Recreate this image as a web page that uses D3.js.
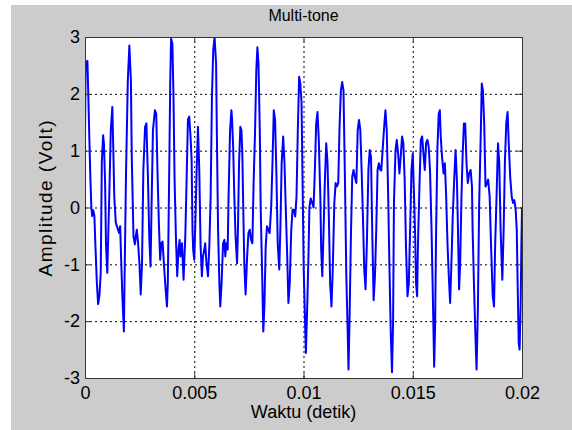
<!DOCTYPE html>
<html><head><meta charset="utf-8">
<script src="https://cdn.jsdelivr.net/npm/d3@7"></script>
<style>
html,body{margin:0;padding:0;background:#fff;}
svg{display:block;}
text{font-family:"Liberation Sans",Arial,Helvetica,sans-serif;fill:#000;}
</style></head><body>
<svg id="chart" width="572" height="430"></svg>
<script>
const titleText = "Multi-tone";
const xLabel = "Waktu (detik)";
const yLabel = "Amplitude (Volt)";
const xTicks = [0, 0.005, 0.01, 0.015, 0.02];
const xTickLabels = ["0", "0.005", "0.01", "0.015", "0.02"];
const yTicks = [-3, -2, -1, 0, 1, 2, 3];
const yTickLabels = ["-3", "-2", "-1", "0", "1", "2", "3"];

// time in milliseconds
const timeMs = [
0.00,0.03,0.11,0.15,0.20,0.24,0.29,0.33,0.38,0.43,0.47,0.54,0.60,0.66,0.72,0.77,0.83,0.87,0.92,0.96,
1.02,1.07,1.11,1.18,1.25,1.30,1.34,1.41,1.48,1.56,1.61,1.65,1.71,1.78,1.82,1.88,1.96,2.03,2.10,2.14,
2.22,2.28,2.37,2.43,2.49,2.55,2.61,2.67,2.75,2.81,2.88,2.94,3.00,3.04,3.11,3.20,3.26,3.32,3.38,
3.44,3.49,3.55,3.61,3.67,3.75,3.79,3.85,3.90,3.94,4.00,4.05,4.10,4.16,4.22,4.28,4.33,4.37,4.44,4.51,
4.59,4.65,4.71,4.77,4.83,4.88,4.92,4.95,5.00,5.05,5.11,5.17,5.23,5.29,5.35,5.40,5.46,5.50,5.56,5.63,
5.69,5.75,5.81,5.87,5.93,6.00,6.04,6.09,6.15,6.19,6.25,6.32,6.38,6.42,6.47,6.53,6.57,6.64,6.70,
6.73,6.78,6.83,6.89,6.96,7.00,7.05,7.11,7.16,7.20,7.25,7.29,7.35,7.42,7.48,7.54,7.60,7.66,7.72,7.78,
7.84,7.89,7.94,8.00,8.04,8.11,8.16,8.21,8.27,8.33,8.39,8.45,8.52,8.58,8.64,8.70,8.76,8.82,8.89,8.94,
9.00,9.07,9.13,9.19,9.25,9.31,9.37,9.44,9.50,9.56,9.62,9.68,9.74,9.80,9.85,9.91,9.95,10.01,10.08,10.11,
10.18,10.23,10.27,10.33,10.40,10.46,10.52,10.58,10.64,10.70,10.77,10.81,10.86,10.92,10.98,11.04,11.10,11.16,11.22,11.28,
11.34,11.41,11.47,11.53,11.59,11.65,11.71,11.77,11.83,11.89,11.96,12.02,12.06,12.11,12.17,12.23,12.29,12.35,12.42,12.48,
12.54,12.60,12.66,12.72,12.78,12.84,12.90,12.97,13.03,13.09,13.15,13.21,13.27,13.33,13.39,13.45,13.52,
13.56,13.62,13.68,13.75,13.81,13.87,13.93,13.99,14.05,14.10,14.14,14.21,14.27,14.33,14.39,14.45,14.51,14.57,14.63,14.69,
14.76,14.82,14.88,14.94,15.00,15.06,15.11,15.15,15.20,15.24,15.31,15.37,15.43,15.49,15.55,15.61,15.67,15.73,15.79,15.86,
15.92,15.98,16.02,16.07,16.13,16.19,16.24,16.28,16.34,16.41,16.47,16.53,16.59,16.65,16.71,16.77,16.83,16.89,16.96,
17.02,17.06,17.12,17.17,17.23,17.28,17.34,17.40,17.46,17.52,17.58,17.65,17.71,17.74,17.80,17.86,17.92,17.98,18.04,18.11,
18.16,18.21,18.27,18.33,18.39,18.45,18.52,18.58,18.66,18.72,18.77,18.84,18.90,18.96,19.02,19.10,19.16,19.22,19.28,19.34,
19.40,19.46,19.53,19.59,19.65,19.71,19.76,19.80,19.85,19.89,19.94,19.97,20.00
];

// amplitude in volts
const amplitude = [
1.25,2.55,2.58,2.0,1.2,0.6,0.0,-0.15,-0.05,-0.15,-0.6,-1.3,-1.7,-1.55,-1.15,0.8,1.27,1.1,0.43,-0.63,
-1.15,-0.4,0.19,1.36,1.77,0.95,0.19,-0.27,-0.35,-0.45,-0.33,-0.86,-1.56,-2.18,-1.0,0.66,2.24,2.85,2.24,0.89,
-0.51,-0.65,-0.39,-0.63,-0.98,-1.53,-0.98,0.66,1.42,1.48,0.54,-0.51,-1.04,-0.1,1.36,1.71,1.65,0.6,-0.27,
-0.92,-0.63,-0.6,-0.98,-1.33,-1.74,-1.33,0.49,2.18,2.97,2.88,1.95,0.49,-0.51,-1.21,-0.74,-0.57,-0.86,-0.63,-1.27,
-0.51,0.49,1.54,1.6,1.25,0.84,-0.39,-0.74,-0.92,-0.27,0.66,1.42,0.66,-0.68,-1.21,-0.86,-0.74,-0.63,-0.98,-1.21,
-0.68,0.19,1.95,2.77,3.0,2.53,1.13,-0.39,-1.33,-1.74,-1.33,-0.63,-0.57,-0.86,-0.63,-0.74,0.19,1.36,1.71,
1.55,1.07,0.25,-0.51,-0.98,-0.39,0.78,1.42,1.36,0.95,-0.16,-0.98,-1.53,-0.86,-0.45,-0.39,-0.57,-0.63,0.49,1.3,
2.42,2.82,2.53,1.36,0.0,-1.21,-2.18,-1.74,-0.68,-0.33,-0.39,-0.45,0.0,0.78,1.71,1.54,0.6,-0.63,-1.09,-0.39,
0.78,1.25,0.78,-0.04,-0.8,-1.68,-1.33,-0.39,-0.04,-0.04,-0.16,0.19,1.36,2.3,2.2,1.85,0.66,-1.09,-2.15,-2.56,
-1.6,-0.8,0.0,0.16,0.08,0.0,0.66,1.48,1.68,1.19,0.19,-0.74,-1.21,-0.39,0.49,1.13,0.78,-0.16,-1.33,-1.74,
-1.09,0.08,0.43,0.37,0.43,1.42,2.06,2.21,2.06,0.66,-1.21,-2.15,-2.85,-1.91,-0.51,0.54,0.66,0.54,0.43,1.36,
1.54,1.36,0.66,-0.16,-1.09,-1.44,-0.63,0.66,1.01,0.89,-0.51,-1.63,-1.21,-0.39,0.66,0.78,0.66,
0.65,1.0,1.36,1.71,1.36,0.31,-0.98,-2.15,-2.9,-2.03,0.08,1.01,1.19,0.95,0.6,0.89,1.25,1.13,0.49,-0.68,
-1.56,-1.33,-0.39,0.66,0.95,0.19,-0.51,-1.33,-1.56,-0.63,0.43,1.19,1.25,0.95,0.66,1.13,1.19,1.07,0.66,-0.39,
-1.56,-2.8,-2.15,-0.39,1.07,1.65,1.71,1.25,0.89,0.6,0.78,0.19,-0.63,-1.21,-1.68,-0.98,-0.16,0.43,1.01,
0.5,-0.2,-1.44,-0.98,0.19,0.89,1.48,1.48,0.78,0.43,0.6,0.66,0.37,-0.39,-1.33,-2.15,-2.85,-1.8,0.08,1.25,
2.18,2.06,1.48,0.37,0.42,0.49,0.19,-0.63,-1.56,-1.74,-0.68,0.25,1.13,0.78,-0.39,-1.27,-0.39,0.84,1.48,1.68,
1.07,0.54,0.19,0.08,0.13,-0.04,-0.39,-1.33,-2.38,-2.5,-1.68,-0.7,0.0
];

const W = 572, H = 430;
const m = {left: 85, top: 37, right: 522, bottom: 378};
const svg = d3.select("#chart");

// figure background
svg.append("rect").attr("x", 11).attr("y", 5).attr("width", W - 11).attr("height", H - 5).attr("fill", "#cccccc");

const x = d3.scaleLinear().domain([0, 0.02]).range([m.left, m.right]);
const y = d3.scaleLinear().domain([-3, 3]).range([m.bottom, m.top]);

// plot area
svg.append("rect").attr("x", m.left).attr("y", m.top)
  .attr("width", m.right - m.left).attr("height", m.bottom - m.top).attr("fill", "#ffffff");

// grid
const gridX = svg.append("g").attr("transform", `translate(0,${m.bottom})`)
  .call(d3.axisBottom(x).tickValues(xTicks.slice(1, -1)).tickSize(-(m.bottom - m.top)).tickFormat(""));
gridX.select(".domain").remove();
gridX.selectAll(".tick line").attr("stroke", "#000").attr("stroke-width", 1).attr("stroke-dasharray", "2,3");

const gridY = svg.append("g").attr("transform", `translate(${m.left},0)`)
  .call(d3.axisLeft(y).tickValues(yTicks.slice(1, -1)).tickSize(-(m.right - m.left)).tickFormat(""));
gridY.select(".domain").remove();
gridY.selectAll(".tick line").attr("stroke", "#000").attr("stroke-width", 1).attr("stroke-dasharray", "2,3");

// clip
svg.append("clipPath").attr("id", "plotclip").append("rect")
  .attr("x", m.left).attr("y", m.top).attr("width", m.right - m.left).attr("height", m.bottom - m.top);

const data = timeMs.map((t, i) => ({t: t / 1000, v: amplitude[i]}));
svg.append("path").datum(data)
  .attr("clip-path", "url(#plotclip)")
  .attr("d", d3.line().x(d => x(d.t)).y(d => y(d.v)))
  .attr("fill", "none").attr("stroke", "#0000ff").attr("stroke-width", 2)
  .attr("stroke-linejoin", "round");

// axes
function styleAxis(g) {
  g.attr("font-size", 18).attr("font-family", '"Liberation Sans",Arial,sans-serif');
  g.select(".domain").attr("stroke", "#333").attr("stroke-width", 1);
  g.selectAll(".tick line").attr("stroke", "#333");
  g.selectAll(".tick text").attr("fill", "#000");
}
svg.append("g").attr("transform", `translate(0,${m.bottom})`)
  .call(d3.axisBottom(x).tickValues(xTicks).tickSizeInner(-5).tickSizeOuter(0).tickPadding(8)
    .tickFormat((d, i) => xTickLabels[i]))
  .call(styleAxis);
svg.append("g").attr("transform", `translate(0,${m.top})`)
  .call(d3.axisTop(x).tickValues(xTicks).tickSizeInner(-5).tickSizeOuter(0).tickFormat(""))
  .call(styleAxis);
svg.append("g").attr("transform", `translate(${m.left},0)`)
  .call(d3.axisLeft(y).tickValues(yTicks).tickSizeInner(-5).tickSizeOuter(0).tickPadding(5)
    .tickFormat((d, i) => yTickLabels[i]))
  .call(styleAxis);
svg.append("g").attr("transform", `translate(${m.right},0)`)
  .call(d3.axisRight(y).tickValues(yTicks).tickSizeInner(-5).tickSizeOuter(0).tickFormat(""))
  .call(styleAxis);

// titles
const cx = (m.left + m.right) / 2;
svg.append("text").attr("x", cx).attr("y", 21).attr("text-anchor", "middle")
  .attr("font-size", 16).text(titleText);
svg.append("text").attr("x", cx).attr("y", 418).attr("text-anchor", "middle")
  .attr("font-size", 18).text(xLabel);
svg.append("text").attr("transform", `translate(52,${(m.top + m.bottom) / 2 - 9}) rotate(-90)`)
  .attr("text-anchor", "middle").attr("font-size", 19)
  .attr("textLength", 156).attr("lengthAdjust", "spacing").text(yLabel);
</script>
</body></html>
